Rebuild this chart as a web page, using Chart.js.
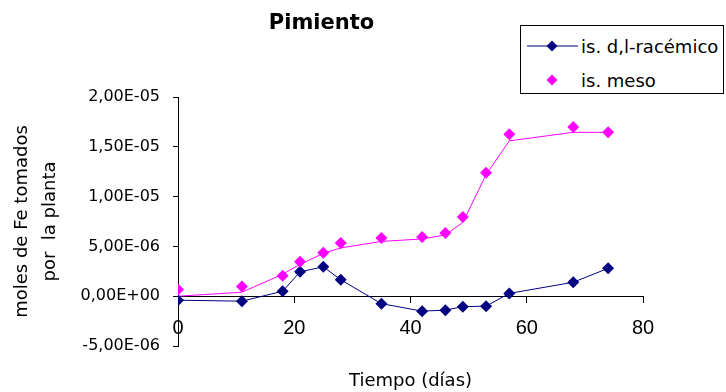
<!DOCTYPE html>
<html>
<head>
<meta charset="utf-8">
<title>Pimiento</title>
<script src="https://cdn.jsdelivr.net/npm/chart.js@4.4.1/dist/chart.umd.min.js"></script>
<style>
  body { margin: 0; background: #fff; }
  #wrap { position: relative; width: 726px; height: 392px; }
  #legend {
    position: absolute; left: 520px; top: 25px; width: 202px; height: 67px;
    border: 1px solid #000; background: #fff;
    font: 18px "DejaVu Sans", sans-serif; color: #000;
  }
  #legend .item { position: absolute; left: 6px; height: 22px; display: flex; align-items: center; }
  #legend svg { margin-right: 3px; }
</style>
</head>
<body>
<div id="wrap">
  <canvas id="myChart"></canvas>
  <div id="legend">
    <div class="item" style="top: 9px;">
      <svg width="51" height="12"><line x1="0" y1="6" x2="51" y2="6" stroke="#000080" stroke-width="1"/><polygon points="25,0.5 30.5,6 25,11.5 19.5,6" fill="#000080"/></svg>
      <span>is. d,l-racémico</span>
    </div>
    <div class="item" style="top: 43px;">
      <svg width="51" height="12"><polygon points="25,0.5 30.5,6 25,11.5 19.5,6" fill="#ff00ff"/></svg>
      <span>is. meso</span>
    </div>
  </div>
</div>
<script>
// días de muestreo
const dias = [0, 11, 18, 21, 25, 28, 35, 42, 46, 49, 53, 57, 68, 74];
// moles de Fe tomados por la planta
const racemico = [-0.4e-6, -0.5e-6, 0.5e-6, 2.45e-6, 2.95e-6, 1.65e-6, -0.75e-6, -1.5e-6, -1.4e-6, -1.05e-6, -1.0e-6, 0.28e-6, 1.4e-6, 2.8e-6];
const meso = [0.67e-6, 0.97e-6, 2.05e-6, 3.45e-6, 4.35e-6, 5.35e-6, 5.85e-6, 5.95e-6, 6.35e-6, 7.95e-6, 12.4e-6, 16.25e-6, 17.0e-6, 16.45e-6];
const mesoTendencia = [0.0, 0.4e-6, 2.2e-6, 3.2e-6, 4.3e-6, 4.85e-6, 5.5e-6, 5.75e-6, 6.15e-6, 7.4e-6, 12.2e-6, 15.6e-6, 16.45e-6, 16.45e-6];
// ejes
const ejeX = { min: 0, max: 80, paso: 20 };
const ejeY = { min: -5e-6, max: 2e-5, paso: 5e-6 };

const puntos = (ys) => dias.map((d, i) => ({ x: d, y: ys[i] }));

// 2,00E-05 style labels
function formatoCientifico(v) {
  if (Math.abs(v) < 1e-12) v = 0;
  const [m, e] = v.toExponential(2).split('e');
  const exp = parseInt(e, 10);
  const sign = exp < 0 ? '-' : '+';
  return m.replace('.', ',') + 'E' + sign + String(Math.abs(exp)).padStart(2, '0');
}

const ctx = document.getElementById('myChart').getContext('2d');
const myChart = new Chart(ctx, {
  type: 'scatter',
  data: {
    datasets: [
      {
        label: 'is. meso',
        data: puntos(meso),
        showLine: false,
        pointStyle: 'rectRot',
        pointRadius: 6,
        backgroundColor: '#ff00ff',
        borderColor: '#ff00ff',
        borderWidth: 0
      },
      {
        label: 'is. d,l-racémico',
        data: puntos(racemico),
        showLine: true,
        pointStyle: 'rectRot',
        pointRadius: 6,
        backgroundColor: '#000080',
        borderColor: '#000080',
        borderWidth: 1,
        pointBorderWidth: 0
      },
      {
        label: 'tendencia meso',
        data: puntos(mesoTendencia),
        showLine: true,
        pointRadius: 0,
        borderColor: '#ff00ff',
        borderWidth: 1
      }
    ]
  },
  options: {
    responsive: true,
    maintainAspectRatio: false,
    animation: false,
    layout: { padding: { left: 0, right: 83, top: 0, bottom: 0 } },
    plugins: {
      legend: { display: false },
      tooltip: { enabled: false },
      title: {
        display: true,
        text: 'Pimiento',
        color: '#000',
        font: { family: 'DejaVu Sans', size: 21, weight: 'bold', lineHeight: 1.2 },
        padding: { top: 11, bottom: 60.8 }
      },
      subtitle: {
        display: true,
        position: 'bottom',
        fullSize: false,
        text: 'Tiempo (días)',
        color: '#000',
        font: { family: 'DejaVu Sans', size: 18, lineHeight: 1.2 },
        padding: { top: 24.4, bottom: 0 }
      }
    },
    scales: {
      x: {
        type: 'linear',
        position: { y: 0 },
        min: ejeX.min,
        max: ejeX.max,
        ticks: {
          stepSize: ejeX.paso,
          color: '#000',
          padding: 14,
          font: { family: 'Liberation Sans', size: 20 }
        },
        grid: { drawOnChartArea: false, tickLength: 6, color: '#000' },
        border: { color: '#000', width: 1 }
      },
      y: {
        min: ejeY.min,
        max: ejeY.max,
        afterFit: (scale) => { scale.width = 178; },
        ticks: {
          stepSize: ejeY.paso,
          color: '#000',
          padding: 13,
          font: { family: 'DejaVu Sans', size: 16 },
          callback: (v) => formatoCientifico(v)
        },
        grid: { drawOnChartArea: false, tickLength: 5, color: '#000' },
        border: { color: '#000', width: 1 },
        title: {
          display: true,
          text: ['moles de Fe tomados', 'por  la planta'],
          color: '#000',
          font: { family: 'DejaVu Sans', size: 18, lineHeight: 1.556 },
          padding: { top: 8, bottom: 0 }
        }
      }
    }
  }
});
</script>
</body>
</html>
